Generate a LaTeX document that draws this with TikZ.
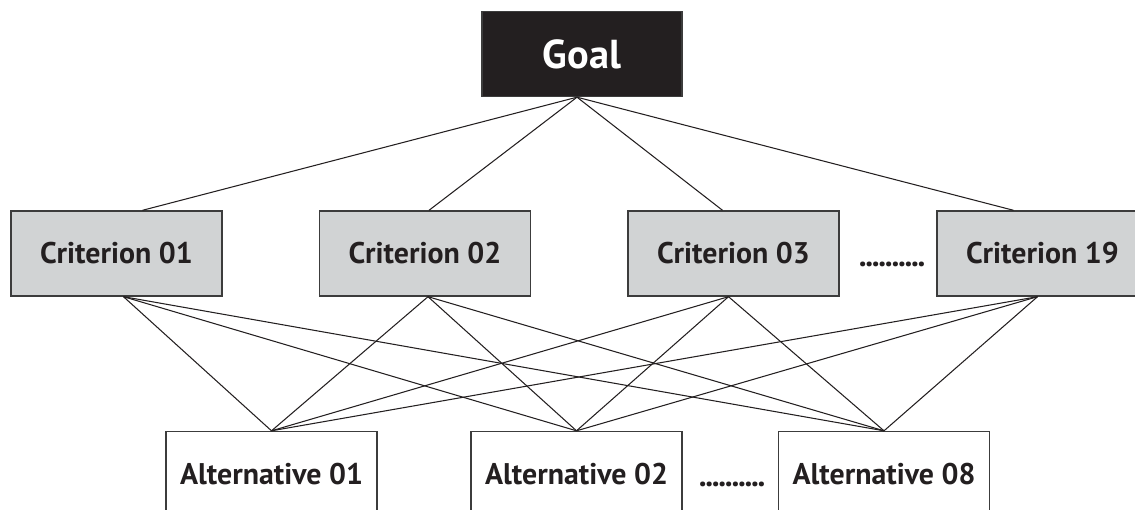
\documentclass[tikz,border=0pt]{standalone}
\usepackage{fontspec}
\setmainfont{PT Sans}
\usetikzlibrary{calc}
\definecolor{goalfill}{HTML}{231F20}
\definecolor{critfill}{HTML}{D1D3D4}
\definecolor{edgegray}{HTML}{3C3C3C}
\newcommand{\dotrow}{\foreach \i in {1,...,10}{.\kern-0.7pt}}
\tikzset{
  goalbox/.style={draw=edgegray, fill=goalfill, text=white, line width=0.8pt,
    minimum width=4cm, minimum height=1.7cm, font=\fontsize{23}{26}\selectfont\bfseries},
  critbox/.style={draw=edgegray, fill=critfill, text=goalfill, line width=0.8pt,
    minimum width=4.22cm, minimum height=1.7cm, font=\fontsize{17}{20}\selectfont\bfseries},
  altbox/.style={draw=edgegray, fill=white, text=goalfill, line width=0.8pt,
    minimum width=4.22cm, minimum height=1.7cm, font=\fontsize{17}{20}\selectfont\bfseries},
  dotsnode/.style={text=goalfill, font=\fontsize{18}{20}\selectfont\bfseries},
  link/.style={draw=goalfill, line width=0.6pt}
}
\begin{document}
\begin{tikzpicture}[x=0.02cm, y=-0.02cm]
  \useasboundingbox (0,0) rectangle (1135,510);
  \clip (0,0) rectangle (1135,510);

  % goal and criteria
  \node[goalbox] (goal) at (582,54) {Goal};
  \node[critbox] (c01) at (116.5,253.5) {Criterion 01};
  \node[critbox] (c02) at (425,253.5) {Criterion 02};
  \node[critbox] (c03) at (733.5,253.5) {Criterion 03};
  \node[critbox] (c19) at (1042.5,253.5) {Criterion 19};
  \node[dotsnode] (cdots) at (891.5,264) {\dotrow};

  % alternatives
  \node[altbox] (a01) at (271.5,474) {Alternative 01};
  \node[altbox] (a02) at (576.5,474) {Alternative 02};
  \node[altbox] (a08) at (884,474) {Alternative 08};
  \node[dotsnode] (adots) at (731.5,484) {\dotrow};

  % where the lines meet the boxes
  \coordinate (gout) at ($(goal.south)+(-5,0)$);
  \coordinate (c01in) at ($(c01.north)+(26,0)$);
  \coordinate (c02in) at ($(c02.north)+(4,0)$);
  \coordinate (c03in) at ($(c03.north)+(-11,0)$);
  \coordinate (c19in) at ($(c19.north)+(-29,0)$);
  \coordinate (c01out) at ($(c01.south)+(7,0)$);
  \coordinate (c02out) at ($(c02.south)+(3,0)$);
  \coordinate (c03out) at ($(c03.south)+(-5,0)$);
  \coordinate (c19out) at ($(c19.south)+(-5,0)$);

  \foreach \c in {c01in,c02in,c03in,c19in}
    \draw[link] (gout) -- (\c);
  \foreach \c in {c01out,c02out,c03out,c19out}
    \foreach \a in {a01,a02,a08}
      \draw[link] (\c) -- (\a.north);
\end{tikzpicture}
\end{document}
